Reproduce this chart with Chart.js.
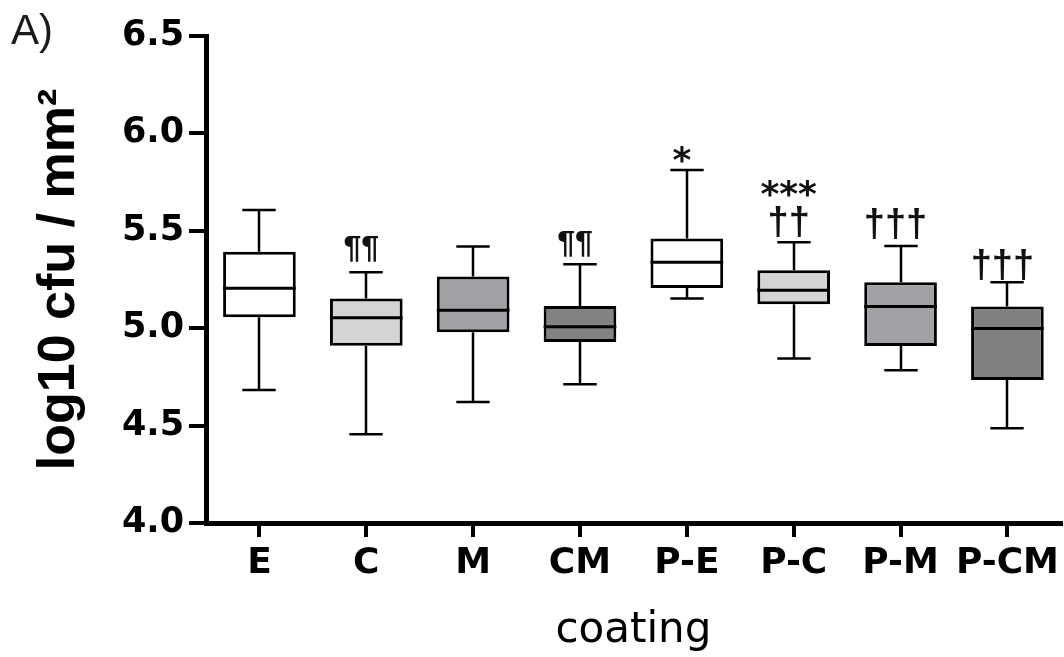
<!DOCTYPE html>
<html>
<head>
<meta charset="utf-8">
<script src="https://cdn.jsdelivr.net/npm/chart.js@4/dist/chart.umd.min.js"></script>
<style>
  html, body { margin: 0; padding: 0; background: #ffffff; }
  canvas { display: block; }
</style>
</head>
<body>
<canvas id="c" width="1064" height="657"></canvas>
<script>
// ---- data ----
const categories = ['E', 'C', 'M', 'CM', 'P-E', 'P-C', 'P-M', 'P-CM'];
const whiskerMin = [4.683, 4.455, 4.621, 4.712, 5.153, 4.845, 4.784, 4.486];
const q1         = [5.056, 4.910, 4.979, 4.929, 5.206, 5.123, 4.909, 4.734];
const median     = [5.205, 5.054, 5.092, 5.008, 5.338, 5.195, 5.112, 4.999];
const q3         = [5.393, 5.153, 5.266, 5.114, 5.461, 5.297, 5.236, 5.112];
const whiskerMax = [5.607, 5.287, 5.420, 5.328, 5.812, 5.441, 5.422, 5.236];
const boxColors  = ['#ffffff', '#d4d4d4', '#a2a2a6', '#828282', '#ffffff', '#d4d4d4', '#a2a2a6', '#808080'];

const yTickValues = [4.0, 4.5, 5.0, 5.5, 6.0, 6.5];
const yTickLabels = ['4.0', '4.5', '5.0', '5.5', '6.0', '6.5'];

// significance marks: category, text, value at the bottom of the glyphs
const markCategory = ['C', 'CM', 'P-E', 'P-C', 'P-C', 'P-M', 'P-CM'];
const markText     = ['¶¶', '¶¶', '*', '***', '††', '†††', '†††'];
const markValue    = [5.340, 5.366, 5.848, 5.674, 5.468, 5.458, 5.247];

const xTitle = 'coating';
const yTitle = 'log10 cfu / mm²';
const panelLabel = 'A)';

// ---- plugins ----
const boxPlugin = {
  id: 'boxWhiskers',
  afterDatasetsDraw(chart) {
    const { ctx, scales: { y } } = chart;
    const meta = chart.getDatasetMeta(0);
    ctx.save();
    ctx.strokeStyle = '#000';
    ctx.lineCap = 'butt';
    categories.forEach((c, i) => {
      const bar = meta.data[i];
      const cx = Math.round(bar.x);
      const half = bar.width / 2;
      const capHalf = bar.width * 0.23;
      const yMax = y.getPixelForValue(whiskerMax[i]);
      const yMin = y.getPixelForValue(whiskerMin[i]);
      const yQ1 = y.getPixelForValue(q1[i]);
      const yQ3 = y.getPixelForValue(q3[i]);
      const yMed = y.getPixelForValue(median[i]);
      ctx.lineWidth = 2.5;
      ctx.beginPath();
      ctx.moveTo(cx, yQ3); ctx.lineTo(cx, yMax);
      ctx.moveTo(cx - capHalf, yMax); ctx.lineTo(cx + capHalf, yMax);
      ctx.moveTo(cx, yQ1); ctx.lineTo(cx, yMin);
      ctx.moveTo(cx - capHalf, yMin); ctx.lineTo(cx + capHalf, yMin);
      ctx.stroke();
      ctx.lineWidth = 3;
      ctx.beginPath();
      ctx.moveTo(bar.x - half, yMed); ctx.lineTo(bar.x + half, yMed);
      ctx.stroke();
    });
    ctx.restore();
  }
};

const markPlugin = {
  id: 'marks',
  afterDatasetsDraw(chart) {
    const { ctx, scales: { x, y } } = chart;
    ctx.save();
    ctx.fillStyle = '#111';
    ctx.textAlign = 'center';
    ctx.textBaseline = 'alphabetic';
    markText.forEach((t, i) => {
      const idx = categories.indexOf(markCategory[i]);
      const px = x.getPixelForValue(idx) - 5;
      if (t.indexOf('*') >= 0) {
        ctx.font = 'bold 36px "DejaVu Sans"';
      } else if (t.indexOf('¶') >= 0) {
        ctx.font = 'bold 32px "Liberation Sans"';
      } else {
        ctx.font = 'bold 38px "Liberation Sans"';
      }
      const m = ctx.measureText(t);
      const bottom = y.getPixelForValue(markValue[i]);
      ctx.fillText(t, px, bottom - m.actualBoundingBoxDescent);
    });
    ctx.restore();
  }
};

const panelPlugin = {
  id: 'panelLabel',
  afterDraw(chart) {
    const { ctx } = chart;
    ctx.save();
    ctx.fillStyle = '#1a1a1a';
    ctx.font = '42px "Liberation Sans"';
    ctx.textAlign = 'left';
    ctx.textBaseline = 'alphabetic';
    ctx.fillText(panelLabel, 11, 44);
    ctx.restore();
  }
};

// ---- chart ----
new Chart(document.getElementById('c').getContext('2d'), {
  type: 'bar',
  data: {
    labels: categories,
    datasets: [{
      data: categories.map((_, i) => [q1[i], q3[i]]),
      backgroundColor: boxColors,
      borderColor: '#000',
      borderWidth: 3,
      borderSkipped: false,
      barPercentage: 0.68,
      categoryPercentage: 1.0
    }]
  },
  options: {
    responsive: false,
    animation: false,
    devicePixelRatio: 1,
    layout: { padding: { top: 36, right: 2, bottom: 0, left: 0 } },
    plugins: { legend: { display: false }, tooltip: { enabled: false } },
    scales: {
      x: {
        offset: true,
        grid: { display: true, drawOnChartArea: false, offset: false, tickLength: 14, lineWidth: 4, color: '#000' },
        border: { display: true, width: 5, color: '#000' },
        ticks: { font: { family: 'DejaVu Sans', weight: 'bold', size: 36 }, color: '#000', padding: 5, maxRotation: 0, autoSkip: false },
        title: { display: true, text: xTitle, font: { family: 'DejaVu Sans', size: 42 }, color: '#000', padding: { top: 0, bottom: 1 } },
        afterFit(s) { s.height = 134; }
      },
      y: {
        min: 4, max: 6.5,
        afterBuildTicks(s) { s.ticks = yTickValues.map(v => ({ value: v })); },
        ticks: {
          callback: (v, i) => yTickLabels[i],
          font: { family: 'DejaVu Sans', weight: 'bold', size: 35 }, color: '#000', padding: 5
        },
        grid: { display: true, drawOnChartArea: false, tickLength: 17, lineWidth: 4, color: '#000' },
        border: { display: true, width: 5, color: '#000' },
        title: { display: true, text: yTitle, font: { family: 'Liberation Sans', weight: 'bold', size: 52 }, color: '#000', padding: { top: 28, bottom: 0 } },
        afterFit(s) { s.width = 206; }
      }
    }
  },
  plugins: [boxPlugin, markPlugin, panelPlugin]
});
</script>
</body>
</html>
